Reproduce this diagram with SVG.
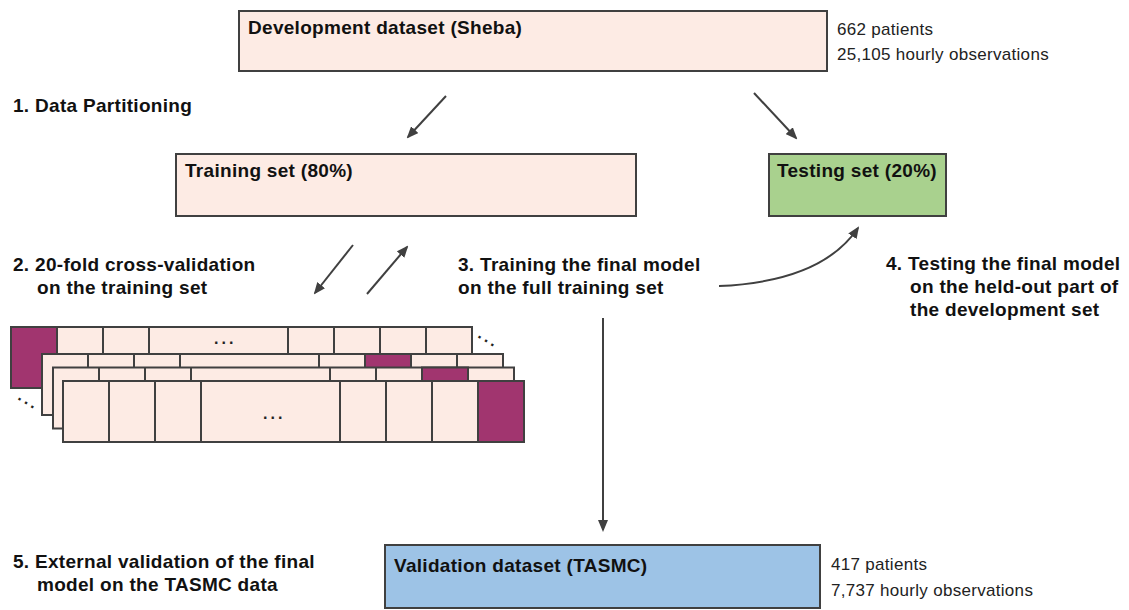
<svg xmlns="http://www.w3.org/2000/svg" xmlns:xlink="http://www.w3.org/1999/xlink" width="1129" height="610" viewBox="0 0 1129 610">
<style>
.box{stroke:#404040;stroke-width:2}
.peach{fill:#FDEBE4}
.green{fill:#A9D18E}
.blue{fill:#9DC3E6}
.purple{fill:#A1356F;stroke:#404040;stroke-width:2}
.cell{fill:#FDEBE4;stroke:#404040;stroke-width:2}
.div{stroke:#404040;stroke-width:2}
.title{font-family:"Liberation Sans",Arial,sans-serif;font-weight:bold;font-size:19px;letter-spacing:0.3px;fill:#111}
.lbl{font-family:"Liberation Sans",Arial,sans-serif;font-weight:bold;font-size:19px;letter-spacing:0.3px;fill:#111}
.note{font-family:"Liberation Sans",Arial,sans-serif;font-size:17px;letter-spacing:0.3px;fill:#222}
.dots{font-family:"Liberation Sans",Arial,sans-serif;font-weight:bold;font-size:16px;letter-spacing:3px;fill:#222}
.conn{fill:none;stroke:#404040;stroke-width:2}
</style>
<defs>
<marker id="ah" markerWidth="12" markerHeight="10" refX="10" refY="5" orient="auto" markerUnits="userSpaceOnUse">
<path d="M0,0 L12,5 L0,10 z" fill="#404040"/>
</marker>
<g id="layerBase">
<rect x="0" y="0" width="461" height="61" class="cell"/>
<path class="div" d="M46,0V61M92,0V61M138,0V61M277,0V61M323,0V61M369,0V61M415,0V61"/>
</g>
</defs>
<rect width="1129" height="610" fill="#ffffff"/>

<g id="dev">
<rect x="239" y="11" width="588" height="60" class="box peach"/>
<text x="248" y="34" class="title">Development dataset (Sheba)</text>
<text x="837" y="35" class="note">662 patients</text>
<text x="837" y="60" class="note">25,105 hourly observations</text>
</g>

<g id="train">
<rect x="176" y="154" width="460" height="62" class="box peach"/>
<text x="185" y="177" class="title">Training set (80%)</text>
</g>

<g id="test">
<rect x="769" y="154" width="177" height="62" class="box green"/>
<text x="777" y="177" class="title">Testing set (20%)</text>
</g>

<g id="valid">
<rect x="385" y="545" width="435" height="63" class="box blue"/>
<text x="394" y="572" class="title">Validation dataset (TASMC)</text>
<text x="831" y="570" class="note">417 patients</text>
<text x="831" y="596" class="note">7,737 hourly observations</text>
</g>

<g id="labels">
<text x="13" y="112" class="lbl">1. Data Partitioning</text>
<text x="13" y="271" class="lbl">2. 20-fold cross-validation</text>
<text x="37" y="294" class="lbl">on the training set</text>
<text x="458" y="271" class="lbl">3. Training the final model</text>
<text x="458" y="294" class="lbl">on the full training set</text>
<text x="886" y="270" class="lbl">4. Testing the final model</text>
<text x="910" y="293" class="lbl">on the held-out part of</text>
<text x="910" y="316" class="lbl">the development set</text>
<text x="13" y="568" class="lbl">5. External validation of the final</text>
<text x="37" y="591" class="lbl">model on the TASMC data</text>
</g>

<g id="folds">
<g id="fold1" transform="translate(11,327)">
<use href="#layerBase" xlink:href="#layerBase"/>
<rect x="0" y="0" width="46" height="61" class="purple"/>
<text x="203" y="17" class="dots">...</text>
</g>
<g id="fold2" transform="translate(42,354)">
<use href="#layerBase" xlink:href="#layerBase"/>
<rect x="323" y="0" width="46" height="61" class="purple"/>
</g>
<g id="fold3" transform="translate(53,367.5)">
<use href="#layerBase" xlink:href="#layerBase"/>
<rect x="369" y="0" width="46" height="61" class="purple"/>
</g>
<g id="fold4" transform="translate(63,381)">
<use href="#layerBase" xlink:href="#layerBase"/>
<rect x="415" y="0" width="46" height="61" class="purple"/>
<text x="200" y="38" class="dots">...</text>
</g>
<text transform="translate(477,337) rotate(31)" class="dots">...</text>
<text transform="translate(17,399) rotate(31)" class="dots">...</text>
</g>

<g id="connectors">
<line x1="446" y1="96" x2="408" y2="137" class="conn" marker-end="url(#ah)"/>
<line x1="754" y1="93" x2="796" y2="138" class="conn" marker-end="url(#ah)"/>
<line x1="353" y1="245" x2="315" y2="293" class="conn" marker-end="url(#ah)"/>
<line x1="367" y1="294" x2="407" y2="247" class="conn" marker-end="url(#ah)"/>
<path d="M719,286 C790,283 835,262 858,228" class="conn" marker-end="url(#ah)"/>
<line x1="603" y1="318" x2="603" y2="530" class="conn" marker-end="url(#ah)"/>
</g>
</svg>
